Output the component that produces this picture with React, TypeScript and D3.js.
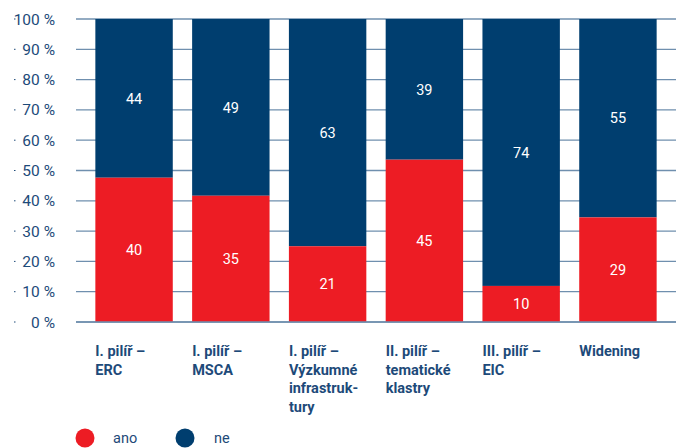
import React from "react";
import * as d3 from "d3";

const categories = [
  ["I. pilíř –", "ERC"],
  ["I. pilíř –", "MSCA"],
  ["I. pilíř –", "Výzkumné", "infrastruk-", "tury"],
  ["II. pilíř –", "tematické", "klastry"],
  ["III. pilíř –", "EIC"],
  ["Widening"],
];
const anoValues = [40, 35, 21, 45, 10, 29];
const neValues = [44, 49, 63, 39, 74, 55];
const yTicks = [0, 10, 20, 30, 40, 50, 60, 70, 80, 90, 100];

const RED = "#ed1c24";
const NAVY = "#003e6f";
const TEXT = "#1d4a79";
const GRID = "#6f8fae";

export default function App() {
  const width = 681;
  const height = 448;
  const plot = { left: 76, right: 676, top: 19, bottom: 322 };

  const x = d3
    .scaleBand<number>()
    .domain(d3.range(categories.length))
    .range([plot.left, plot.right])
    .paddingInner(0.2)
    .paddingOuter(0.2);

  const y = d3.scaleLinear().domain([0, 100]).range([plot.bottom, plot.top]);

  const font = "Roboto, 'DejaVu Sans', sans-serif";

  return (
    <svg
      width={width}
      height={height}
      style={{ position: "absolute", left: 0, top: 0, background: "#fff" }}
      fontFamily={font}
    >
      {/* gridlines + y labels */}
      {yTicks.map((t) => (
        <g key={t}>
          <line
            x1={plot.left}
            x2={plot.right}
            y1={y(t)}
            y2={y(t)}
            stroke={GRID}
            strokeWidth={1.3}
          />
          <line x1={14} x2={15.5} y1={y(t)} y2={y(t)} stroke={TEXT} strokeWidth={1} />
          <text
            x={55}
            y={y(t)}
            dy="0.36em"
            textAnchor="end"
            fontSize={15.5}
            fill={TEXT}
          >
            {t} %
          </text>
        </g>
      ))}

      {/* bars */}
      {categories.map((_, i) => {
        const total = anoValues[i] + neValues[i];
        const pAno = (anoValues[i] / total) * 100;
        const x0 = x(i)!;
        const bw = x.bandwidth();
        return (
          <g key={i}>
            <rect x={x0} width={bw} y={y(100)} height={y(pAno) - y(100)} fill={NAVY} />
            <rect x={x0} width={bw} y={y(pAno)} height={y(0) - y(pAno)} fill={RED} />
            <text
              x={x0 + bw / 2}
              y={(y(100) + y(pAno)) / 2}
              dy="0.36em"
              textAnchor="middle"
              fontSize={14.5}
              fill="#fff"
            >
              {neValues[i]}
            </text>
            <text
              x={x0 + bw / 2}
              y={(y(pAno) + y(0)) / 2}
              dy="0.36em"
              textAnchor="middle"
              fontSize={14.5}
              fill="#fff"
            >
              {anoValues[i]}
            </text>
            <text x={x0} y={356} fontSize={14.5} fontWeight="bold" fill={TEXT}>
              {categories[i].map((line, j) => (
                <tspan key={j} x={x0} dy={j === 0 ? 0 : 18.6}>
                  {line}
                </tspan>
              ))}
            </text>
          </g>
        );
      })}

      <line
        x1={plot.left}
        x2={plot.right}
        y1={y(0)}
        y2={y(0)}
        stroke={GRID}
        strokeWidth={1.3}
      />

      {/* legend */}
      <circle cx={85} cy={438} r={9.5} fill={RED} />
      <text x={113} y={438} dy="0.36em" fontSize={14.5} fill={TEXT}>
        ano
      </text>
      <circle cx={185} cy={438} r={9.5} fill={NAVY} />
      <text x={214} y={438} dy="0.36em" fontSize={14.5} fill={TEXT}>
        ne
      </text>
    </svg>
  );
}
